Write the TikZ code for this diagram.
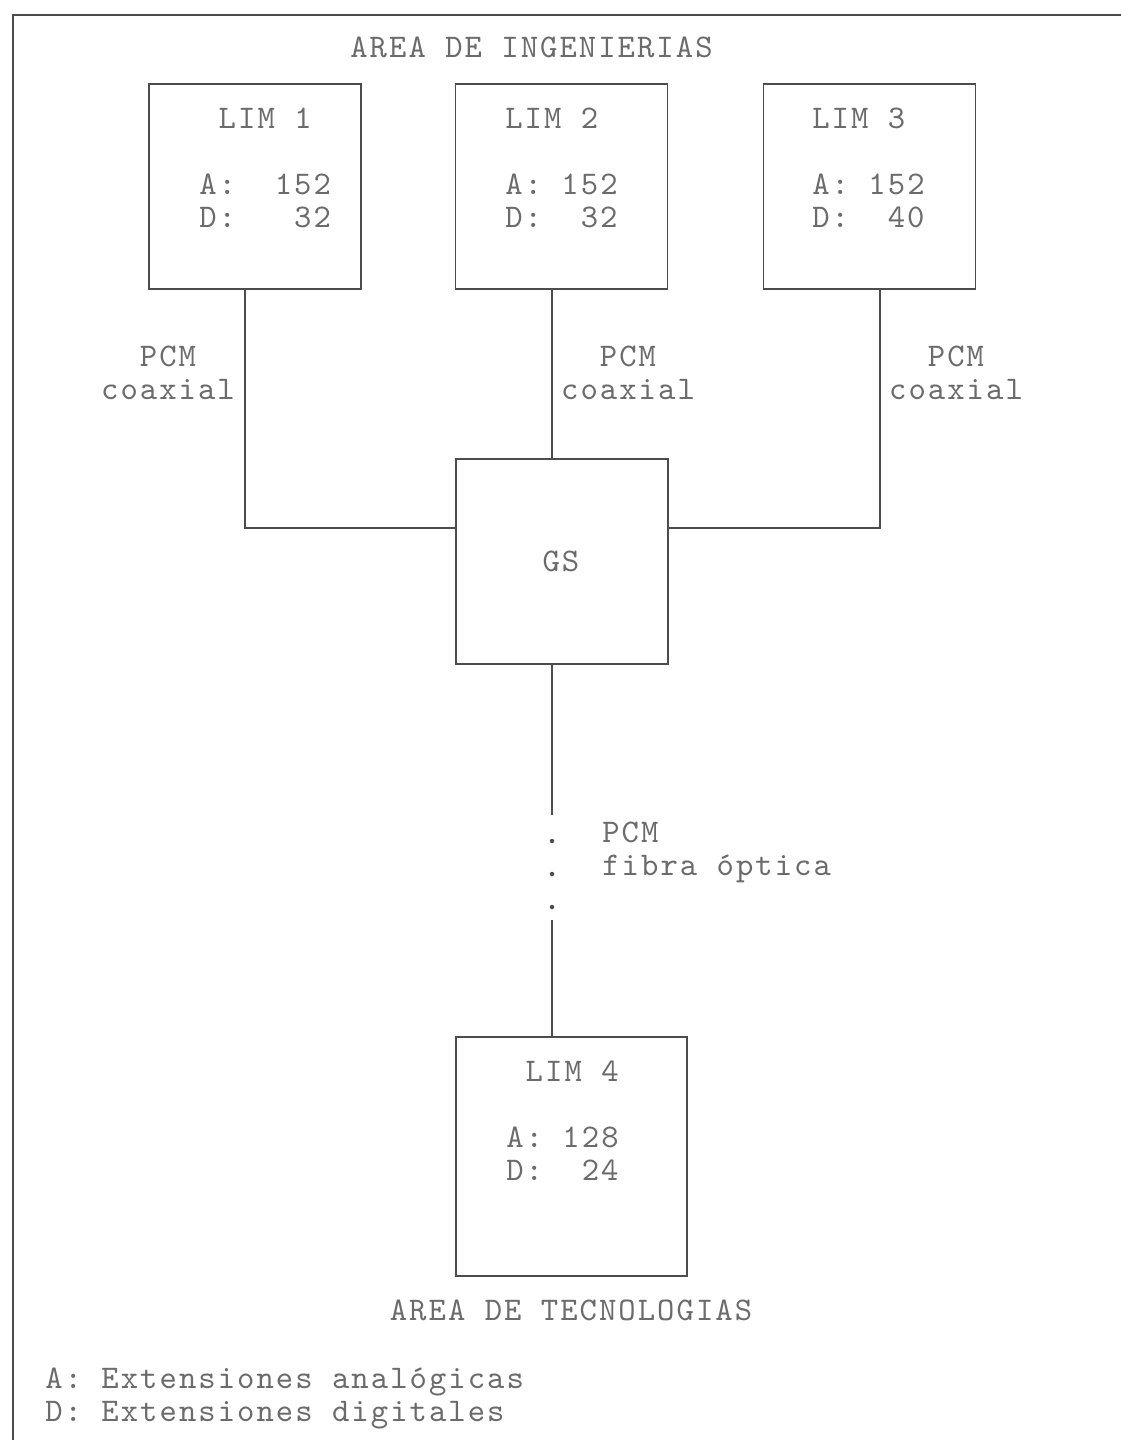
\documentclass[tikz,border=0pt]{standalone}
\usepackage{fontspec}
\newfontfamily\tyw{lmmono10-regular.otf}[LetterSpace=6.2]
\definecolor{ink}{gray}{0.30}
\definecolor{txt}{gray}{0.42}

\begin{document}
\begin{tikzpicture}[
  x=0.02cm, y=-0.02cm,
  every node/.style={font=\tyw\fontsize{18.8}{18.8}\selectfont, text=txt, inner sep=0pt},
  box/.style={draw=ink, line width=1.1pt, minimum width=4.24cm, minimum height=4.1cm},
  wire/.style={draw=ink, line width=1pt},
  txtblk/.style={align=left, anchor=north west},
  pcm/.style={align=center, anchor=north},
]
  \useasboundingbox (0,0) rectangle (1121,1440);

  % Frame
  \draw[ink, line width=1pt] (13,1440) -- (13,15) -- (1121,15);

  % Area titles
  \node[anchor=base west] (ingen) at (350,57) {AREA DE INGENIERIAS};
  \node[anchor=base] (tecno) at (571,1320) {AREA DE TECNOLOGIAS};

  % LIM modules
  \node[box] (lim1) at (255,186.5) {};
  \node[box] (lim2) at (561.5,186.5) {};
  \node[box] (lim3) at (869.5,186.5) {};
  \node[box] (gs) at (562,561.5) {};
  \node[box, minimum width=4.62cm, minimum height=4.78cm] (lim4) at (571.5,1156.5) {};

  \node[txtblk] (lim1txt) at (199,108) {~LIM~1\\[0.66cm]A:~~152\\D:~~~32};
  \node[txtblk] (lim2txt) at (505,108) {LIM~2\\[0.66cm]A:~152\\D:~~32};
  \node[txtblk] (lim3txt) at (812,108) {LIM~3\\[0.66cm]A:~152\\D:~~40};
  \node[txtblk] (lim4txt) at (506,1061) {~LIM~4\\[0.66cm]A:~128\\D:~~24};
  \node[anchor=base] (gstxt) at (561,571) {GS};

  % Coaxial links
  \draw[wire] (lim1.south -| 245,0) |- (gs.west |- 0,528);
  \draw[wire] (lim2.south -| 552,0) -- (gs.north -| 552,0);
  \draw[wire] (lim3.south -| 880,0) |- (gs.east |- 0,528);
  \node[pcm] (pcm1) at (168,346) {PCM\\coaxial};
  \node[pcm] (pcm2) at (628,346) {PCM\\coaxial};
  \node[pcm] (pcm3) at (956,346) {PCM\\coaxial};

  % Fibre link
  \coordinate (fb1) at (552,815);
  \coordinate (fb2) at (552,920);
  \draw[wire] (gs.south -| 552,0) -- (fb1);
  \draw[wire] (fb2) -- (lim4.north -| 552,0);
  \foreach \yy in {841,874,907}
    \fill[ink] (552,\yy) circle (0.045cm);
  \node[txtblk] (fibra) at (602,822) {PCM\\fibra óptica};

  % Legend
  \node[txtblk] (leyenda) at (45,1368) {A: Extensiones analógicas\\D: Extensiones digitales};

\end{tikzpicture}
\end{document}
